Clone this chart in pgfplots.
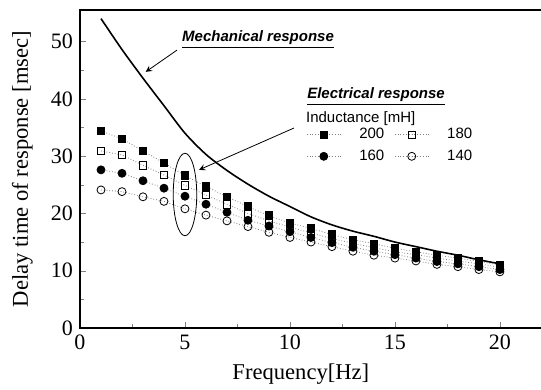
\documentclass[border=0pt]{standalone}
\usepackage{fontspec}
\setmainfont{Liberation Serif}
\newfontfamily\arial{Liberation Sans}
\usepackage{pgfplots}
\pgfplotsset{compat=1.18}
\begin{document}
\begin{tikzpicture}
\begin{axis}[
  scale only axis, width=232pt, height=159pt,
  xmin=0, xmax=22.1, ymin=0, ymax=55.5,
  xtick={0,5,10,15,20}, ytick={0,10,20,30,40,50},
  minor x tick num=1, minor y tick num=1,
  tick pos=left, tick align=inside,
  major tick length=3pt, minor tick length=1.8pt,
  /pgf/number format/assume math mode=true,
  ticklabel style={font=\fontsize{11}{12}\selectfont},
  xlabel={Frequency[Hz]}, ylabel={Delay time of response [msec]},
  label style={font=\fontsize{11.3}{12}\selectfont},
  xlabel style={at={(axis description cs:0.476,-0.145)}, anchor=center},
  ylabel style={at={(axis description cs:-0.124,0.5)}, anchor=center},
  axis line style={line width=0.6pt},
  legend columns=2,
  legend style={draw=none, fill=none, at={(0.474,0.655)}, anchor=north west,
    font=\arial\fontsize{7.5}{9}\selectfont, row sep=0pt,
    /tikz/column 1/.style={column sep=7pt},
    /tikz/column 2/.style={column sep=3pt},
    /tikz/column 3/.style={column sep=7pt}},
  legend cell align=left,
]
\addplot[black, line width=0.8pt, smooth, forget plot] coordinates {
(1,54.0)(2,48.6)(3,43.6)(4,38.8)(5,34.0)(6,30.3)(7,27.5)(8,25.1)(9,23.0)(10,21.2)
(11,19.4)(12,18.0)(13,16.9)(14,16.0)(15,15.0)(16,14.2)(17,13.4)(18,12.7)(19,11.9)(20,11.2)};
\addplot[gray, densely dotted, thin, mark=square*, mark size=1.9pt, mark options={solid, black, fill=black}] coordinates {
(1,34.4)(2,33.0)(3,30.9)(4,28.8)(5,26.6)(6,24.7)(7,22.9)(8,21.2)(9,19.6)(10,18.3)
(11,17.4)(12,16.3)(13,15.4)(14,14.7)(15,13.9)(16,13.3)(17,12.7)(18,12.2)(19,11.6)(20,11.0)};
\addlegendentry{200}
\addplot[gray, densely dotted, thin, mark=square, mark size=1.9pt, mark options={solid, black, fill=white}] coordinates {
(1,30.9)(2,30.2)(3,28.4)(4,26.7)(5,24.9)(6,23.2)(7,21.6)(8,20.0)(9,18.7)(10,17.6)
(11,16.6)(12,15.6)(13,14.8)(14,14.0)(15,13.3)(16,12.8)(17,12.2)(18,11.7)(19,11.2)(20,10.6)};
\addlegendentry{180}
\addplot[gray, densely dotted, thin, mark=*, mark size=2pt, mark options={solid, black, fill=black}] coordinates {
(1,27.6)(2,27.0)(3,25.7)(4,24.4)(5,23.0)(6,21.6)(7,20.2)(8,18.8)(9,17.8)(10,16.8)
(11,15.8)(12,14.9)(13,14.1)(14,13.4)(15,12.8)(16,12.2)(17,11.6)(18,11.2)(19,10.7)(20,10.2)};
\addlegendentry{160}
\addplot[gray, densely dotted, thin, mark=o, mark size=2pt, mark options={solid, black, fill=white}] coordinates {
(1,24.1)(2,23.8)(3,22.9)(4,22.1)(5,20.8)(6,19.7)(7,18.7)(8,17.7)(9,16.7)(10,15.8)
(11,15.0)(12,14.2)(13,13.4)(14,12.7)(15,12.2)(16,11.7)(17,11.1)(18,10.7)(19,10.2)(20,9.8)};
\addlegendentry{140}
\draw[thin] (axis cs:5,23.3) ellipse [x radius=0.56, y radius=7.2];
\node[font=\arial\bfseries\itshape\fontsize{7.5}{9}\selectfont] at (axis cs:8.48,50.3) {\underline{Mechanical response}};
\draw[-stealth, thin] (axis cs:4.62,48.5) -- (axis cs:3.13,44.7);
\node[font=\arial\bfseries\itshape\fontsize{7.5}{9}\selectfont] at (axis cs:14.1,40.4) {\underline{Electrical response}};
\node[anchor=west, inner sep=0pt, font=\arial\fontsize{7.5}{9}\selectfont] at (axis cs:10.75,36.6) {Inductance [mH]};
\draw[-stealth, thin] (axis cs:10.19,34.9) -- (axis cs:5.67,27.6);
\end{axis}
\pgfresetboundingbox
\path ([shift={(-40pt,-31pt)}]current axis.south west) rectangle ([shift={(230.5pt,164pt)}]current axis.south west);
\end{tikzpicture}
\end{document}
